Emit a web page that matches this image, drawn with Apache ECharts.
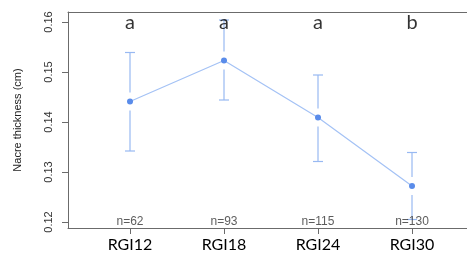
<!DOCTYPE html>
<html>
<head>
<meta charset="utf-8">
<script src="https://cdn.jsdelivr.net/npm/echarts@6/dist/echarts.min.js"></script>
<style>
  html, body { margin: 0; padding: 0; background: #fff; }
  #chart { width: 467px; height: 253px; }
</style>
</head>
<body>
<div id="chart"></div>
<script>
  // groups, means and error bar ends
  const categories = ['RGI12', 'RGI18', 'RGI24', 'RGI30']
  const means = [0.1441, 0.1523, 0.1409, 0.1272]
  const upper = [0.1539, 0.1604, 0.1494, 0.1339]
  const lower = [0.1342, 0.1444, 0.1321, 0.1205]
  const letters = ['a', 'a', 'a', 'b']
  const counts = ['n=62', 'n=93', 'n=115', 'n=130']
  const yTicks = [0.12, 0.13, 0.14, 0.15, 0.16]

  const chart = echarts.init(document.getElementById('chart'))
  const xs = categories.map((c, i) => i + 1)
  const axisColor = '#6b6b6b'

  const option = {
    animation: false,
    grid: {left: 68, top: 12, right: 0, bottom: 25},
    xAxis: [
      {
        type: 'value',
        min: 0.3404, max: 4.585,
        splitLine: {show: false},
        axisLine: {show: true, lineStyle: {color: axisColor}},
        axisTick: {show: true, length: 6, customValues: xs, lineStyle: {color: axisColor}},
        axisLabel: {
          customValues: xs,
          formatter: v => categories[Math.round(v) - 1] || '',
          color: '#000', fontFamily: 'Lato', fontSize: 16, margin: 9
        }
      },
      {
        // top border of the box only
        type: 'value',
        position: 'top',
        min: 0.3404, max: 4.585,
        splitLine: {show: false},
        axisLine: {show: true, lineStyle: {color: axisColor}},
        axisTick: {show: false},
        axisLabel: {show: false}
      }
    ],
    yAxis: {
      type: 'value',
      min: 0.1188, max: 0.162,
      name: 'Nacre thickness (cm)',
      nameLocation: 'middle',
      nameGap: 45,
      nameTextStyle: {color: '#222', fontFamily: 'Liberation Sans', fontSize: 11},
      splitLine: {show: false},
      axisLine: {show: true, lineStyle: {color: axisColor}},
      axisTick: {show: true, length: 6, customValues: yTicks, lineStyle: {color: axisColor}},
      axisLabel: {
        customValues: yTicks,
        rotate: 90,
        formatter: v => v.toFixed(2),
        color: '#333', fontFamily: 'Liberation Sans', fontSize: 11, margin: 14
      }
    },
    series: [
      {
        type: 'custom',
        silent: true,
        data: xs.map((x, i) => [x, lower[i], upper[i], means[i]]),
        renderItem: (params, api) => {
          const x = api.value(0)
          const lo = api.coord([x, api.value(1)])
          const hi = api.coord([x, api.value(2)])
          const mid = api.coord([x, api.value(3)])
          const gap = 9
          const cap = 5
          const style = {stroke: '#98b9f2', lineWidth: 1.2}
          const kids = [
            {type: 'line', shape: {x1: hi[0] - cap, y1: hi[1], x2: hi[0] + cap, y2: hi[1]}, style},
            {type: 'line', shape: {x1: lo[0] - cap, y1: lo[1], x2: lo[0] + cap, y2: lo[1]}, style},
            {type: 'line', shape: {x1: hi[0], y1: hi[1], x2: mid[0], y2: mid[1] - gap}, style},
            {type: 'line', shape: {x1: lo[0], y1: lo[1], x2: mid[0], y2: mid[1] + gap}, style}
          ]
          return {type: 'group', children: kids}
        },
        z: 2
      },
      {
        type: 'line',
        data: xs.map((x, i) => [x, means[i]]),
        symbol: 'circle',
        symbolSize: 6,
        lineStyle: {color: '#a4c2f5', width: 1.2},
        itemStyle: {color: '#5a8cea'},
        z: 3
      },
      {
        type: 'scatter',
        symbolSize: 0,
        silent: true,
        data: xs.map(x => [x, 0.1598]),
        label: {
          show: true, position: 'inside',
          formatter: p => letters[p.dataIndex],
          color: '#000', fontFamily: 'Lato', fontSize: 20
        },
        z: 4
      },
      {
        type: 'scatter',
        symbolSize: 0,
        silent: true,
        data: xs.map(x => [x, 0.12]),
        label: {
          show: true, position: 'inside',
          formatter: p => counts[p.dataIndex],
          color: '#333', fontFamily: 'Liberation Sans', fontSize: 12
        },
        z: 4
      }
    ]
  }

  chart.setOption(option)
  window.addEventListener('resize', () => chart.resize())
</script>
</body>
</html>
